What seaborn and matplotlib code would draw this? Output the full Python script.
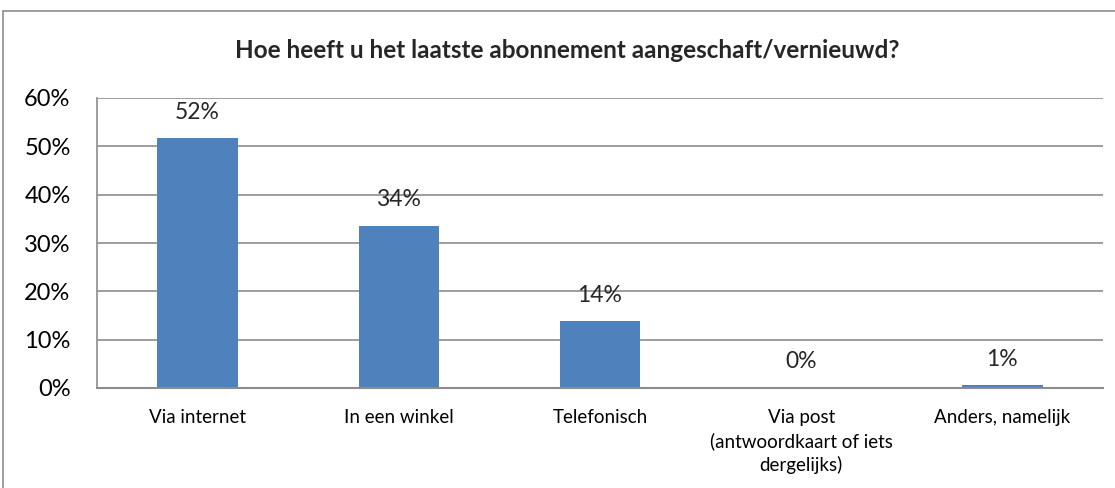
import matplotlib
matplotlib.use("Agg")
import matplotlib.pyplot as plt
import seaborn as sns
import pandas as pd
from matplotlib.patches import Rectangle
from matplotlib.ticker import PercentFormatter

categories = ["Via internet", "In een winkel", "Telefonisch",
              "Via post\n(antwoordkaart of iets\ndergelijks)", "Anders, namelijk"]
values = [51.7, 33.6, 13.9, 0.1, 0.6]
labels = ["52%", "34%", "14%", "0%", "1%"]
yticks = [0, 10, 20, 30, 40, 50, 60]
title = "Hoe heeft u het laatste abonnement aangeschaft/vernieuwd?"

sns.set_theme(style="white")
plt.rcParams['font.family'] = ['Lato', 'DejaVu Sans']

df = pd.DataFrame({"cat": categories, "val": values})

fig = plt.figure(figsize=(11.15, 4.88), dpi=100)
ax = fig.add_axes([97/1115, 1 - 388/488, (1103-97)/1115, (388-98)/488])

sns.barplot(data=df, x="cat", y="val", color="#4F81BD", width=0.4, ax=ax,
            saturation=1, edgecolor="none")

ax.set_ylim(0, 60)
ax.set_yticks(yticks)
ax.yaxis.set_major_formatter(PercentFormatter(decimals=0))
ax.grid(axis="y", color="#8C8C8C", linewidth=1.2)
ax.set_axisbelow(True)
ax.set_xlabel("")
ax.set_ylabel("")
for s in ["top", "right"]:
    ax.spines[s].set_visible(False)
ax.spines["left"].set_color("#8C8C8C")
ax.spines["bottom"].set_color("#8C8C8C")
ax.spines["left"].set_linewidth(1.2)
ax.spines["bottom"].set_linewidth(1.5)
ax.tick_params(axis="y", length=0, pad=19, labelsize=17, colors="black")
ax.tick_params(axis="x", length=0, pad=15, labelsize=13.5, colors="black")
for t in ax.get_xticklabels():
    t.set_linespacing(1.4)

for i, (v, lab) in enumerate(zip(values, labels)):
    ax.annotate(lab, (i, v), xytext=(0, 18.5), textcoords="offset points",
                ha="center", va="center", fontsize=16.5)

fig.text(0.5085, 1 - 50/488, title, ha="center", va="center",
         fontsize=17.5, fontweight="bold")

fig.patches.append(Rectangle((3/1115, -0.2), 1.2, 1 - 11/488 + 0.2,
                             transform=fig.transFigure, fill=False,
                             edgecolor="#8C8C8C", linewidth=1.2))

fig.savefig("out.png", dpi=100)
